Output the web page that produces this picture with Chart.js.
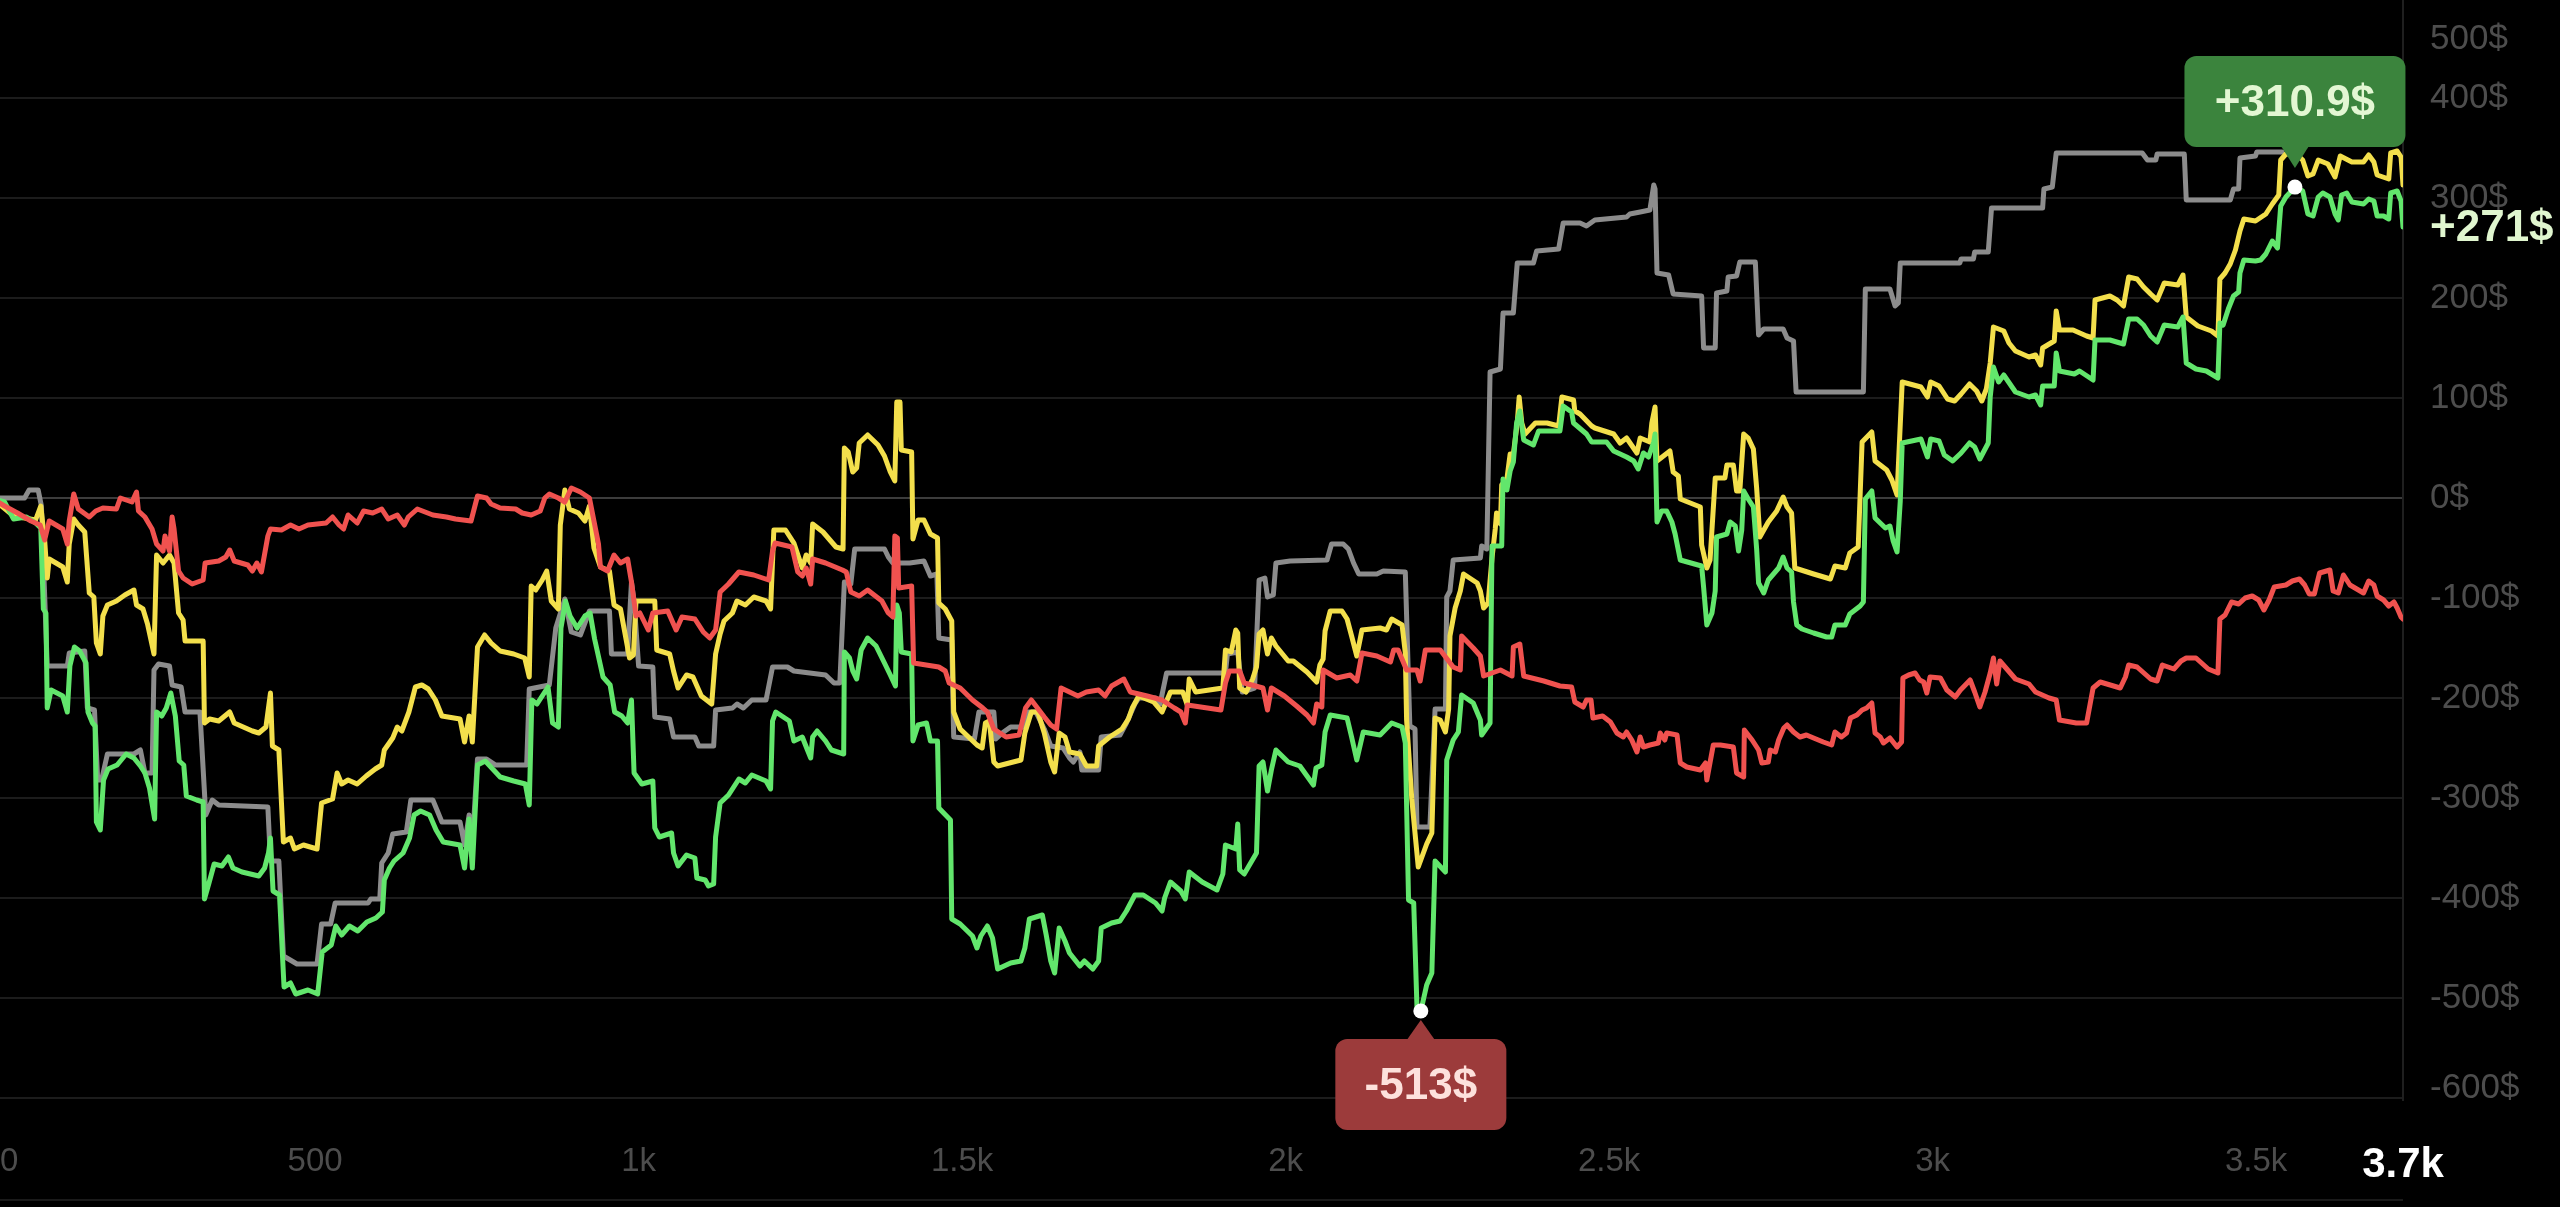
<!DOCTYPE html>
<html>
<head>
<meta charset="utf-8">
<title>PnL curves</title>
<script src="https://cdn.jsdelivr.net/npm/chart.js@4.4.1/dist/chart.umd.min.js"></script>
<style>
  html, body { margin: 0; padding: 0; background: #000; overflow: hidden; }
  #wrap { position: relative; width: 2560px; height: 1207px; }
</style>
</head>
<body>
<div id="wrap"><canvas id="chart" width="2560" height="1207"></canvas></div>
<script>
// [trade #, cumulative pnl $]
const greenSeries = [
  [0,0],[20,-4],[34,-21],[54,-19],[68,-25],[76,-30],[80,-111],[84,-115],[86,-210],[92,-192],[110,-198],[117,-214],[121,-168],[128,-149],[136,-153],[146,-165],[149,-214],[156,-225],[160,-228],[162,-324],[168,-332],[173,-282],[180,-271],[194,-267],[208,-256],[220,-260],[230,-268],[237,-275],[244,-290],[252,-321],[255,-214],[263,-218],[270,-210],[277,-195],[284,-218],[290,-263],[297,-267],[301,-298],[317,-302],[327,-304],[329,-401],[336,-385],[344,-366],[356,-368],[366,-359],[373,-370],[387,-374],[413,-378],[422,-370],[428,-355],[431,-340],[435,-393],[445,-397],[452,-489],[462,-485],[470,-496],[489,-492],[504,-496],[511,-454],[525,-447],[532,-428],[541,-437],[553,-428],[566,-433],[580,-424],[594,-420],[604,-414],[607,-382],[615,-370],[622,-363],[636,-355],[646,-340],[653,-317],[663,-313],[677,-317],[687,-332],[698,-344],[724,-347],[731,-370],[738,-321],[743,-370],[751,-267],[763,-263],[786,-279],[807,-283],[825,-286],[831,-307],[835,-202],[843,-206],[851,-198],[860,-189],[867,-225],[876,-229],[880,-130],[887,-103],[894,-118],[905,-130],[917,-118],[925,-115],[932,-141],[945,-179],[956,-187],[963,-214],[974,-218],[983,-225],[989,-202],[993,-275],[1005,-286],[1022,-283],[1025,-330],[1032,-339],[1051,-335],[1054,-355],[1061,-368],[1074,-357],[1087,-360],[1090,-380],[1103,-382],[1108,-388],[1116,-386],[1119,-339],[1126,-305],[1139,-297],[1155,-281],[1165,-285],[1175,-277],[1197,-283],[1204,-291],[1207,-223],[1212,-214],[1233,-223],[1240,-243],[1253,-239],[1261,-252],[1266,-260],[1269,-239],[1276,-233],[1289,-243],[1298,-252],[1317,-256],[1318,-154],[1326,-160],[1331,-173],[1337,-181],[1344,-152],[1354,-140],[1367,-148],[1380,-165],[1389,-177],[1397,-188],[1399,-107],[1403,-115],[1406,-154],[1422,-156],[1424,-243],[1432,-227],[1445,-225],[1451,-243],[1462,-243],[1464,-310],[1482,-322],[1484,-421],[1497,-426],[1516,-438],[1523,-450],[1529,-438],[1539,-428],[1547,-440],[1555,-471],[1575,-465],[1591,-463],[1597,-450],[1604,-421],[1624,-417],[1630,-437],[1637,-463],[1643,-475],[1650,-430],[1659,-443],[1666,-455],[1682,-468],[1689,-463],[1702,-471],[1711,-463],[1715,-430],[1731,-425],[1744,-423],[1754,-413],[1767,-397],[1780,-397],[1799,-405],[1809,-413],[1813,-400],[1822,-384],[1838,-393],[1845,-401],[1851,-374],[1871,-384],[1894,-392],[1903,-376],[1907,-347],[1923,-351],[1926,-326],[1929,-372],[1936,-376],[1955,-355],[1959,-268],[1965,-264],[1972,-293],[1978,-272],[1985,-252],[2004,-264],[2022,-268],[2043,-287],[2047,-270],[2056,-267],[2061,-234],[2069,-217],[2095,-220],[2102,-239],[2110,-262],[2120,-234],[2146,-237],[2164,-225],[2180,-229],[2185,-245],[2190,-402],[2198,-405],[2203,-509],[2209,-513],[2218,-487],[2226,-475],[2231,-363],[2247,-374],[2249,-262],[2259,-242],[2267,-234],[2272,-197],[2290,-205],[2301,-222],[2303,-237],[2316,-225],[2319,-48],[2334,-48],[2336,19],[2342,8],[2347,27],[2352,36],[2357,75],[2362,87],[2368,58],[2383,53],[2391,67],[2424,67],[2429,92],[2442,86],[2445,75],[2465,64],[2473,56],[2496,56],[2507,47],[2527,41],[2538,37],[2545,29],[2553,45],[2561,41],[2569,56],[2571,64],[2574,-24],[2581,-13],[2589,-13],[2597,-24],[2602,-36],[2610,-62],[2643,-68],[2646,-89],[2651,-127],[2659,-115],[2664,-93],[2666,-39],[2682,-36],[2687,-24],[2695,-28],[2700,-53],[2705,-32],[2708,7],[2715,-1],[2723,-9],[2728,-51],[2731,-85],[2739,-95],[2746,-82],[2762,-70],[2769,-59],[2775,-70],[2782,-74],[2785,-104],[2790,-127],[2798,-131],[2816,-135],[2836,-139],[2844,-139],[2849,-127],[2865,-127],[2872,-116],[2888,-108],[2893,-104],[2896,-1],[2906,7],[2911,-20],[2927,-30],[2934,-28],[2939,-43],[2945,-54],[2950,-3],[2953,55],[2982,59],[2992,41],[2997,59],[3010,57],[3018,43],[3031,37],[3044,45],[3057,55],[3065,51],[3073,39],[3086,55],[3089,101],[3094,131],[3102,116],[3110,123],[3128,106],[3149,101],[3159,103],[3167,93],[3170,112],[3188,112],[3191,145],[3196,127],[3219,124],[3227,127],[3248,118],[3251,158],[3274,158],[3295,154],[3303,179],[3316,179],[3326,173],[3337,162],[3347,156],[3358,173],[3379,171],[3387,181],[3392,135],[3407,129],[3423,127],[3441,120],[3444,175],[3449,173],[3457,189],[3465,202],[3473,206],[3475,225],[3481,238],[3499,237],[3507,238],[3515,244],[3525,257],[3533,250],[3538,292],[3546,301],[3560,310.9],[3572,307],[3580,284],[3588,282],[3596,301],[3603,305],[3614,301],[3622,284],[3627,278],[3632,303],[3640,305],[3648,296],[3666,294],[3674,299],[3682,297],[3687,282],[3697,282],[3705,279],[3708,305],[3718,307],[3724,297],[3727,271]
];

const yellowSeries = [
  [0,0],[34,-18],[68,-22],[76,-8],[82,-42],[86,-80],[89,-61],[110,-69],[117,-84],[120,-46],[127,-21],[134,-27],[144,-34],[151,-95],[158,-99],[162,-145],[168,-156],[172,-118],[179,-107],[193,-103],[206,-97],[220,-92],[224,-107],[234,-111],[241,-126],[251,-156],[255,-57],[265,-65],[275,-57],[282,-65],[289,-115],[296,-122],[299,-143],[327,-143],[329,-225],[337,-221],[351,-223],[368,-214],[375,-225],[389,-229],[403,-233],[413,-235],[424,-229],[431,-195],[434,-248],[444,-252],[451,-344],[462,-340],[468,-351],[482,-347],[503,-351],[510,-305],[527,-301],[534,-275],[541,-286],[551,-282],[565,-286],[579,-278],[593,-271],[603,-267],[607,-252],[620,-240],[627,-229],[634,-233],[645,-214],[655,-189],[665,-187],[675,-191],[686,-202],[696,-218],[724,-221],[731,-244],[738,-218],[743,-244],[751,-149],[762,-137],[772,-145],[786,-153],[807,-156],[824,-160],[831,-179],[834,-88],[841,-92],[851,-82],[858,-73],[865,-103],[876,-111],[879,-27],[886,8],[893,-11],[907,-15],[917,-23],[924,-8],[931,-50],[941,-69],[955,-73],[962,-107],[972,-111],[986,-160],[992,-157],[996,-103],[1002,-103],[1025,-103],[1028,-152],[1048,-156],[1054,-173],[1061,-190],[1074,-177],[1084,-179],[1097,-198],[1113,-206],[1119,-156],[1126,-136],[1132,-123],[1145,-115],[1152,-103],[1165,-107],[1178,-99],[1197,-103],[1204,-111],[1209,-32],[1227,-32],[1240,-45],[1253,-70],[1259,-57],[1266,-65],[1269,-26],[1285,-34],[1305,-49],[1316,-51],[1318,50],[1324,46],[1331,26],[1337,30],[1341,55],[1354,63],[1370,53],[1380,42],[1389,26],[1396,17],[1399,96],[1404,96],[1406,48],[1422,46],[1424,-41],[1432,-22],[1441,-22],[1451,-36],[1462,-40],[1464,-105],[1474,-111],[1484,-123],[1487,-214],[1497,-231],[1523,-247],[1531,-250],[1536,-225],[1542,-223],[1549,-264],[1555,-268],[1591,-262],[1597,-235],[1607,-214],[1617,-214],[1627,-235],[1637,-264],[1643,-274],[1650,-235],[1659,-239],[1666,-254],[1682,-256],[1692,-268],[1708,-268],[1711,-248],[1728,-239],[1747,-231],[1757,-221],[1763,-210],[1773,-198],[1796,-204],[1809,-214],[1822,-194],[1841,-194],[1848,-207],[1851,-181],[1861,-194],[1903,-190],[1907,-152],[1916,-154],[1923,-132],[1926,-135],[1929,-190],[1939,-194],[1949,-181],[1955,-169],[1959,-136],[1965,-132],[1972,-156],[1978,-140],[1985,-148],[2004,-163],[2012,-163],[2033,-174],[2048,-184],[2053,-167],[2058,-161],[2061,-133],[2069,-113],[2087,-113],[2095,-121],[2102,-138],[2110,-158],[2118,-132],[2146,-130],[2156,-132],[2164,-121],[2180,-127],[2185,-155],[2187,-222],[2195,-301],[2200,-335],[2205,-369],[2218,-346],[2226,-335],[2231,-220],[2239,-222],[2247,-234],[2252,-211],[2254,-138],[2262,-110],[2270,-93],[2275,-76],[2296,-85],[2301,-93],[2306,-110],[2313,-105],[2319,-60],[2324,-31],[2326,-15],[2332,-26],[2334,13],[2342,19],[2347,44],[2352,44],[2358,75],[2361,101],[2365,75],[2370,64],[2386,75],[2404,75],[2422,72],[2427,101],[2445,98],[2447,87],[2455,84],[2473,72],[2478,70],[2507,64],[2517,55],[2527,60],[2543,45],[2548,60],[2563,56],[2566,75],[2571,91],[2574,37],[2594,47],[2599,26],[2607,22],[2610,-1],[2641,-9],[2643,-47],[2651,-70],[2656,-62],[2664,20],[2679,20],[2682,33],[2692,33],[2697,7],[2702,7],[2708,64],[2715,60],[2723,49],[2728,10],[2733,-39],[2746,-24],[2759,-13],[2769,1],[2775,-9],[2782,-15],[2787,-70],[2816,-76],[2842,-81],[2849,-68],[2865,-70],[2872,-55],[2885,-49],[2891,56],[2906,66],[2911,37],[2929,28],[2937,18],[2945,3],[2953,116],[2982,111],[2992,101],[2997,116],[3010,112],[3023,99],[3034,97],[3044,104],[3057,114],[3068,107],[3076,97],[3083,109],[3089,135],[3094,171],[3110,167],[3118,155],[3128,147],[3149,141],[3159,143],[3167,133],[3170,150],[3188,157],[3191,187],[3196,168],[3217,168],[3238,162],[3248,160],[3251,198],[3274,202],[3285,198],[3295,192],[3303,221],[3316,219],[3326,211],[3337,204],[3347,198],[3358,215],[3379,213],[3387,223],[3392,181],[3410,172],[3431,167],[3441,162],[3444,219],[3452,225],[3460,234],[3468,248],[3475,267],[3481,279],[3499,277],[3515,284],[3525,294],[3535,303],[3538,338],[3546,344],[3562,344],[3572,338],[3580,322],[3588,324],[3596,338],[3611,334],[3622,321],[3630,342],[3648,336],[3666,336],[3674,343],[3682,336],[3687,323],[3705,319],[3708,345],[3718,347],[3724,341],[3727,313]
];

const greySeries = [
  [0,0],[51,0],[58,8],[72,8],[77,-8],[86,-168],[117,-168],[120,-155],[144,-153],[148,-210],[159,-212],[164,-282],[170,-282],[179,-256],[220,-256],[230,-252],[237,-275],[248,-275],[251,-172],[258,-166],[275,-168],[279,-187],[293,-189],[299,-214],[322,-214],[331,-317],[341,-302],[351,-307],[427,-309],[431,-363],[444,-363],[451,-458],[472,-466],[503,-466],[510,-426],[524,-426],[531,-405],[582,-405],[586,-401],[600,-401],[603,-365],[613,-355],[620,-336],[641,-334],[648,-302],[682,-302],[696,-324],[724,-324],[731,-347],[738,-317],[743,-347],[751,-261],[765,-261],[779,-267],[827,-267],[831,-191],[862,-187],[872,-130],[886,-101],[896,-134],[910,-137],[924,-113],[955,-113],[958,-156],[983,-156],[989,-84],[993,-103],[1000,-168],[1022,-169],[1025,-219],[1048,-221],[1054,-239],[1087,-239],[1093,-248],[1116,-248],[1119,-212],[1145,-210],[1152,-206],[1162,-210],[1175,-202],[1197,-202],[1207,-169],[1230,-169],[1240,-173],[1289,-177],[1302,-185],[1311,-185],[1318,-84],[1328,-86],[1334,-51],[1380,-51],[1386,-59],[1393,-65],[1419,-65],[1441,-63],[1451,-78],[1461,-76],[1464,-140],[1484,-142],[1487,-239],[1519,-241],[1526,-214],[1549,-214],[1552,-241],[1562,-235],[1575,-229],[1598,-229],[1601,-214],[1614,-214],[1627,-231],[1637,-248],[1656,-250],[1666,-260],[1672,-264],[1682,-254],[1685,-272],[1711,-272],[1715,-239],[1744,-237],[1754,-225],[1767,-206],[1773,-200],[1799,-200],[1806,-206],[1816,-175],[1907,-175],[1910,-156],[1926,-154],[1933,-194],[1952,-190],[1959,-82],[1968,-80],[1972,-99],[1981,-97],[1985,-65],[2007,-63],[2064,-62],[2071,-46],[2089,-46],[2097,-51],[2105,-65],[2113,-76],[2141,-76],[2151,-73],[2185,-74],[2192,-228],[2200,-231],[2203,-329],[2223,-329],[2231,-211],[2247,-211],[2249,-99],[2254,-93],[2259,-62],[2301,-60],[2303,-48],[2311,-51],[2316,126],[2332,129],[2336,185],[2352,185],[2358,235],[2383,235],[2388,247],[2422,249],[2429,275],[2455,275],[2465,272],[2478,278],[2527,281],[2532,284],[2548,286],[2563,288],[2569,313],[2571,309],[2574,225],[2592,223],[2599,204],[2643,202],[2646,150],[2664,150],[2666,205],[2682,207],[2684,221],[2697,222],[2702,236],[2726,236],[2731,163],[2739,169],[2769,169],[2775,160],[2785,157],[2789,106],[2893,106],[2896,209],[2934,209],[2942,192],[2947,195],[2950,235],[3042,235],[3044,239],[3063,239],[3065,246],[3086,246],[3091,290],[3170,290],[3172,309],[3185,311],[3191,345],[3324,345],[3332,338],[3345,338],[3347,344],[3389,344],[3392,298],[3460,298],[3465,309],[3473,309],[3475,340],[3499,342],[3501,346],[3540,346]
];

const redSeries = [
  [0,0],[20,-8],[40,-15],[61,-23],[75,-27],[82,-42],[89,-23],[110,-31],[117,-46],[120,-23],[127,4],[134,-11],[151,-19],[161,-13],[172,-10],[193,-11],[199,0],[217,-4],[224,6],[227,-13],[237,-19],[248,-31],[255,-46],[265,-53],[268,-38],[275,-53],[279,-19],[282,-31],[289,-73],[296,-80],[310,-86],[327,-82],[330,-65],[351,-63],[362,-59],[368,-52],[375,-63],[396,-67],[403,-73],[410,-65],[417,-74],[427,-38],[431,-31],[448,-32],[462,-27],[475,-31],[489,-27],[517,-25],[527,-19],[537,-27],[544,-31],[551,-17],[565,-25],[575,-13],[589,-15],[603,-11],[613,-21],[627,-17],[638,-27],[644,-19],[658,-11],[682,-17],[703,-19],[717,-21],[741,-23],[751,2],[765,0],[772,-6],[786,-10],[810,-11],[820,-15],[834,-17],[848,-13],[855,0],[862,4],[876,0],[886,-4],[896,10],[910,6],[924,0],[931,-23],[938,-46],[941,-69],[952,-73],[962,-57],[972,-65],[983,-61],[989,-84],[996,-118],[1002,-115],[1015,-132],[1022,-115],[1045,-113],[1058,-132],[1067,-119],[1087,-121],[1100,-134],[1110,-140],[1119,-132],[1126,-94],[1139,-86],[1155,-74],[1178,-77],[1201,-82],[1207,-53],[1211,-45],[1237,-49],[1246,-74],[1253,-78],[1259,-70],[1266,-86],[1269,-61],[1289,-65],[1315,-72],[1321,-74],[1328,-94],[1341,-98],[1354,-92],[1376,-103],[1386,-115],[1393,-119],[1396,-38],[1400,-40],[1402,-90],[1422,-88],[1425,-165],[1464,-169],[1474,-173],[1480,-185],[1497,-190],[1516,-202],[1532,-210],[1539,-214],[1549,-231],[1568,-239],[1588,-237],[1598,-210],[1607,-202],[1627,-219],[1637,-227],[1646,-231],[1653,-190],[1679,-198],[1692,-194],[1711,-192],[1721,-198],[1731,-188],[1750,-181],[1760,-194],[1786,-198],[1809,-202],[1828,-210],[1838,-214],[1845,-225],[1848,-207],[1900,-212],[1907,-185],[1913,-173],[1929,-173],[1936,-185],[1965,-190],[1972,-212],[1978,-190],[1998,-198],[2017,-208],[2033,-217],[2043,-225],[2048,-206],[2056,-209],[2058,-172],[2079,-180],[2100,-177],[2110,-183],[2118,-155],[2141,-158],[2162,-164],[2167,-152],[2174,-152],[2187,-172],[2203,-172],[2208,-183],[2216,-152],[2239,-152],[2259,-169],[2270,-172],[2272,-138],[2290,-150],[2301,-158],[2306,-178],[2332,-172],[2350,-178],[2352,-149],[2362,-146],[2368,-178],[2399,-183],[2424,-188],[2442,-189],[2447,-204],[2460,-209],[2465,-202],[2472,-202],[2475,-220],[2490,-218],[2502,-224],[2512,-235],[2522,-239],[2527,-234],[2535,-242],[2543,-254],[2548,-239],[2553,-249],[2563,-247],[2576,-245],[2579,-235],[2586,-242],[2589,-235],[2605,-237],[2610,-265],[2620,-269],[2641,-272],[2649,-265],[2651,-282],[2661,-247],[2672,-247],[2692,-249],[2697,-275],[2708,-279],[2709,-232],[2721,-242],[2731,-252],[2736,-265],[2746,-264],[2749,-252],[2757,-254],[2762,-242],[2770,-230],[2775,-227],[2785,-234],[2795,-239],[2805,-237],[2816,-240],[2831,-244],[2844,-247],[2849,-234],[2859,-239],[2867,-235],[2873,-220],[2883,-217],[2891,-212],[2898,-210],[2906,-205],[2911,-235],[2919,-239],[2924,-245],[2934,-240],[2945,-249],[2952,-244],[2954,-180],[2963,-177],[2973,-175],[2980,-182],[2986,-184],[2991,-195],[2996,-179],[3012,-180],[3022,-192],[3035,-199],[3043,-192],[3058,-182],[3065,-194],[3073,-209],[3081,-194],[3089,-175],[3094,-160],[3099,-186],[3104,-163],[3120,-175],[3128,-181],[3149,-186],[3159,-194],[3180,-200],[3191,-202],[3196,-222],[3222,-225],[3238,-225],[3248,-190],[3259,-184],[3290,-190],[3298,-179],[3303,-167],[3316,-169],[3337,-181],[3347,-183],[3355,-167],[3373,-171],[3384,-163],[3392,-160],[3407,-160],[3426,-171],[3441,-175],[3444,-121],[3452,-117],[3462,-104],[3473,-106],[3483,-100],[3494,-98],[3504,-102],[3512,-112],[3520,-102],[3528,-89],[3546,-87],[3556,-83],[3567,-81],[3575,-87],[3582,-96],[3590,-96],[3598,-75],[3614,-72],[3619,-93],[3627,-95],[3635,-77],[3645,-87],[3666,-95],[3674,-83],[3682,-87],[3687,-98],[3697,-102],[3705,-108],[3713,-104],[3718,-110],[3724,-119],[3727,-121]
];

const yTicks = [500, 400, 300, 200, 100, 0, -100, -200, -300, -400, -500, -600];
const xTicks = [0, 500, 1000, 1500, 2000, 2500, 3000, 3500];
const xMin = 13, xMax = 3727;
const yMin = -602, yMax = 498;

const FONT = '"Liberation Sans", Arial, Helvetica, sans-serif';
const toXY = s => s.map(([x, y]) => ({ x, y }));
const fmtMoney = v => (v > 0 ? '+' : '') + (Number.isInteger(v) ? v : v.toFixed(1)) + '$';
const fmtTrades = v => v >= 1000 ? (v / 1000) + 'k' : String(v);

const maxPt = greenSeries.reduce((a, b) => b[1] > a[1] ? b : a);
const minPt = greenSeries.reduce((a, b) => b[1] < a[1] ? b : a);
const lastGreen = greenSeries[greenSeries.length - 1];

function callout(ctx, px, py, text, fill, color, below) {
  const w = below ? 171 : 221, h = 91;
  const left = px - w / 2;
  const top = below ? py + 28 : py - 40 - h;
  ctx.save();
  ctx.fillStyle = fill;
  ctx.beginPath();
  ctx.roundRect(left, top, w, h, 12);
  ctx.fill();
  ctx.beginPath();
  if (below) {
    ctx.moveTo(px - 14, top + 1); ctx.lineTo(px, py + 9); ctx.lineTo(px + 14, top + 1);
  } else {
    ctx.moveTo(px - 14, top + h - 1); ctx.lineTo(px, py - 19); ctx.lineTo(px + 14, top + h - 1);
  }
  ctx.closePath();
  ctx.fill();
  ctx.fillStyle = color;
  ctx.font = 'bold 44px ' + FONT;
  ctx.textAlign = 'center';
  ctx.textBaseline = 'middle';
  ctx.fillText(text, px, top + h / 2 + 2);
  ctx.restore();
}

const overlay = {
  id: 'overlay',
  afterDatasetsDraw(chart) {
    const { ctx, scales: { x, y } } = chart;
    // extreme points of the main curve
    const pts = [[maxPt, false], [minPt, true]];
    pts.forEach(([p, below]) => {
      const px = x.getPixelForValue(p[0]), py = y.getPixelForValue(p[1]);
      ctx.save();
      ctx.fillStyle = '#ffffff';
      ctx.beginPath(); ctx.arc(px, py, 7.5, 0, Math.PI * 2); ctx.fill();
      ctx.restore();
      if (below) callout(ctx, px, py, fmtMoney(p[1]), '#9c3b3b', '#fde1dc', true);
      else callout(ctx, px, py, fmtMoney(p[1]), '#3b843d', '#e3f7d3', false);
    });
  },
  afterDraw(chart) {
    const { ctx, scales: { x, y }, chartArea } = chart;
    ctx.save();
    // bottom separator
    ctx.strokeStyle = '#1a1a1a';
    ctx.lineWidth = 2;
    ctx.beginPath(); ctx.moveTo(0, 1200); ctx.lineTo(chartArea.right, 1200); ctx.stroke();

    // y labels (kept inside the pane)
    ctx.font = '35px ' + FONT;
    ctx.fillStyle = '#4d4d4d';
    ctx.textAlign = 'left';
    ctx.textBaseline = 'middle';
    yTicks.forEach(v => {
      const py = Math.min(Math.max(y.getPixelForValue(v), 39), 1088);
      ctx.fillText(v + '$', chartArea.right + 27, py);
    });

    // last value of the main curve
    ctx.font = 'bold 44px ' + FONT;
    ctx.fillStyle = '#e0f6cf';
    ctx.fillText(fmtMoney(lastGreen[1]), chartArea.right + 27, y.getPixelForValue(lastGreen[1]) + 2);

    // x labels
    ctx.font = '33px ' + FONT;
    ctx.fillStyle = '#4d4d4d';
    ctx.textAlign = 'left';
    xTicks.forEach(v => {
      const label = fmtTrades(v);
      const w = ctx.measureText(label).width;
      const left = Math.max(x.getPixelForValue(v) - w / 2, 0);
      ctx.fillText(label, left, 1162);
    });
    ctx.font = 'bold 42px ' + FONT;
    ctx.fillStyle = '#ffffff';
    ctx.textAlign = 'center';
    ctx.fillText((lastGreen[0] / 1000).toFixed(1) + 'k', x.getPixelForValue(lastGreen[0]), 1165);
    ctx.restore();
  }
};

const lineStyle = color => ({
  borderColor: color,
  borderWidth: 5,
  pointRadius: 0,
  tension: 0,
  borderJoinStyle: 'round',
  borderCapStyle: 'round',
  fill: false
});

new Chart(document.getElementById('chart').getContext('2d'), {
  type: 'line',
  data: {
    datasets: [
      { label: 'red', data: toXY(redSeries), ...lineStyle('#f0524f') },
      { label: 'green', data: toXY(greenSeries), ...lineStyle('#62e66c') },
      { label: 'yellow', data: toXY(yellowSeries), ...lineStyle('#f3df4c') },
      { label: 'grey', data: toXY(greySeries), ...lineStyle('#8c8c8c') }
    ]
  },
  options: {
    responsive: false,
    devicePixelRatio: 1,
    animation: false,
    events: [],
    layout: { padding: { left: 0, top: 0, right: 157, bottom: 107 } },
    plugins: { legend: { display: false }, tooltip: { enabled: false } },
    scales: {
      x: { type: 'linear', min: xMin, max: xMax, display: false },
      y: {
        type: 'linear',
        position: 'right',
        min: yMin,
        max: yMax,
        afterBuildTicks: s => { s.ticks = yTicks.filter(v => v >= yMin && v <= yMax).map(v => ({ value: v })); },
        ticks: { display: false },
        grid: {
          drawTicks: false,
          lineWidth: 2,
          color: c => (c.tick && c.tick.value === 0) ? '#3c3c3c' : '#1c1c1c'
        },
        border: { display: true, color: '#1f1f1f', width: 2 }
      }
    }
  },
  plugins: [overlay]
});
</script>
</body>
</html>
